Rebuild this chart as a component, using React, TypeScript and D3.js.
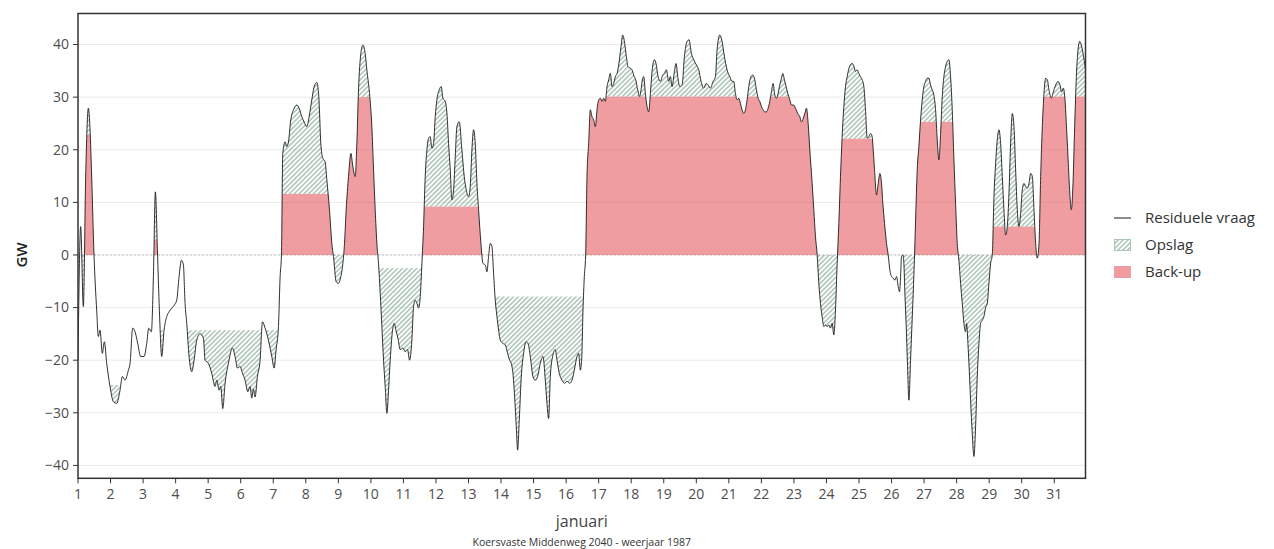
import * as d3 from "d3";

// residual demand (GW), x = day of January
const days = [
  1.0, 1.082, 1.164, 1.236, 1.318, 1.369, 1.42, 1.492, 1.574, 1.625, 1.677, 1.748, 1.81, 1.882, 1.984,
  2.087, 2.189, 2.292, 2.363, 2.445, 2.548, 2.599, 2.681, 2.753, 2.835, 2.927, 3.03, 3.112, 3.173, 3.255,
  3.317, 3.378, 3.44, 3.501, 3.573, 3.645, 3.727, 3.798, 3.88, 3.962, 4.034, 4.106, 4.178, 4.239, 4.29,
  4.342, 4.413, 4.495, 4.567, 4.649, 4.752, 4.853, 4.905, 5.007, 5.11, 5.212, 5.264, 5.335, 5.387, 5.448,
  5.52, 5.622, 5.745, 5.827, 5.899, 5.981, 6.053, 6.135, 6.217, 6.289, 6.34, 6.391, 6.442, 6.514, 6.596,
  6.668, 6.75, 6.852, 6.955, 7.027, 7.088, 7.16, 7.211, 7.252, 7.293, 7.365, 7.416, 7.467, 7.539, 7.621,
  7.724, 7.795, 7.877, 7.949, 8.031, 8.103, 8.185, 8.257, 8.339, 8.4, 8.462, 8.523, 8.595, 8.646, 8.728,
  8.8, 8.851, 8.934, 9.005, 9.077, 9.139, 9.19, 9.241, 9.313, 9.385, 9.446, 9.518, 9.569, 9.62, 9.692,
  9.753, 9.825, 9.876, 9.958, 10.03, 10.082, 10.133, 10.184, 10.235, 10.287, 10.338, 10.389, 10.44, 10.492, 10.543,
  10.594, 10.666, 10.717, 10.768, 10.83, 10.902, 10.984, 11.055, 11.127, 11.189, 11.26, 11.312, 11.363, 11.414, 11.465,
  11.517, 11.568, 11.619, 11.67, 11.722, 11.773, 11.824, 11.875, 11.927, 11.978, 12.029, 12.101, 12.162, 12.214, 12.285,
  12.337, 12.388, 12.439, 12.49, 12.542, 12.593, 12.644, 12.716, 12.797, 12.869, 12.93, 13.002, 13.053, 13.105, 13.156,
  13.207, 13.259, 13.31, 13.382, 13.443, 13.515, 13.566, 13.617, 13.669, 13.72, 13.771, 13.822, 13.874, 13.925, 13.976,
  14.058, 14.13, 14.202, 14.263, 14.314, 14.365, 14.417, 14.468, 14.509, 14.56, 14.622, 14.694, 14.765, 14.827, 14.899,
  14.98, 15.052, 15.124, 15.206, 15.288, 15.36, 15.411, 15.462, 15.514, 15.585, 15.667, 15.719, 15.79, 15.872, 15.954,
  16.026, 16.108, 16.18, 16.251, 16.334, 16.385, 16.436, 16.477, 16.518, 16.559, 16.6, 16.641, 16.692, 16.744, 16.795,
  16.846, 16.898, 16.949, 17.0, 17.052, 17.103, 17.154, 17.205, 17.257, 17.308, 17.359, 17.41, 17.462, 17.513, 17.564,
  17.615, 17.687, 17.738, 17.8, 17.851, 17.902, 17.974, 18.025, 18.076, 18.138, 18.2, 18.261, 18.302, 18.343, 18.384,
  18.435, 18.487, 18.538, 18.589, 18.64, 18.712, 18.763, 18.825, 18.896, 18.968, 19.02, 19.081, 19.153, 19.204, 19.255,
  19.327, 19.378, 19.43, 19.491, 19.563, 19.634, 19.717, 19.778, 19.85, 19.922, 20.004, 20.075, 20.147, 20.229, 20.301,
  20.362, 20.434, 20.516, 20.588, 20.639, 20.721, 20.792, 20.864, 20.946, 21.028, 21.1, 21.151, 21.202, 21.254, 21.305,
  21.356, 21.407, 21.459, 21.51, 21.561, 21.612, 21.664, 21.735, 21.797, 21.848, 21.9, 21.95, 22.002, 22.053, 22.104,
  22.156, 22.207, 22.258, 22.309, 22.36, 22.412, 22.463, 22.504, 22.555, 22.617, 22.658, 22.709, 22.76, 22.812, 22.873,
  22.924, 22.996, 23.047, 23.119, 23.18, 23.232, 23.283, 23.334, 23.386, 23.437, 23.488, 23.56, 23.611, 23.662, 23.714,
  23.765, 23.816, 23.867, 23.919, 23.97, 24.021, 24.072, 24.124, 24.175, 24.226, 24.277, 24.329, 24.38, 24.431, 24.482,
  24.534, 24.585, 24.636, 24.708, 24.79, 24.842, 24.893, 24.944, 24.995, 25.046, 25.098, 25.149, 25.2, 25.252, 25.303,
  25.354, 25.405, 25.436, 25.477, 25.539, 25.59, 25.641, 25.692, 25.733, 25.785, 25.846, 25.897, 25.949, 26.0, 26.051,
  26.102, 26.153, 26.205, 26.246, 26.277, 26.307, 26.348, 26.379, 26.41, 26.451, 26.492, 26.533, 26.584, 26.625, 26.666,
  26.707, 26.748, 26.789, 26.84, 26.892, 26.943, 26.994, 27.045, 27.097, 27.148, 27.199, 27.25, 27.302, 27.353, 27.404,
  27.455, 27.507, 27.558, 27.609, 27.66, 27.712, 27.763, 27.814, 27.865, 27.917, 27.968, 28.019, 28.07, 28.122, 28.173,
  28.224, 28.275, 28.306, 28.347, 28.388, 28.429, 28.48, 28.532, 28.583, 28.634, 28.686, 28.737, 28.788, 28.839, 28.89,
  28.942, 28.993, 29.044, 29.095, 29.147, 29.198, 29.249, 29.3, 29.352, 29.403, 29.454, 29.506, 29.557, 29.608, 29.659,
  29.711, 29.762, 29.813, 29.864, 29.916, 29.967, 30.018, 30.069, 30.121, 30.172, 30.223, 30.274, 30.326, 30.377, 30.428,
  30.479, 30.531, 30.582, 30.633, 30.684, 30.736, 30.787, 30.838, 30.91, 30.971, 31.043, 31.115, 31.176, 31.227, 31.279,
  31.33, 31.381, 31.432, 31.484, 31.525, 31.576, 31.627, 31.679, 31.73, 31.781, 31.832, 31.884, 31.935, 31.96,
];

const residual = [
  -20, 5.4, -9.8, 15, 27.9, 24, 15, 0, -10.5, -15.5, -14.3, -18.7, -16.5, -20.6, -25,
  -27.9, -28.2, -25.7, -23.1, -23.8, -21.9, -20.6, -13.9, -14.6, -16.8, -19.3, -19.3, -16.8, -13.9, -14.6,
  -4.1, 12, 1, -10.5, -19.3, -14.3, -11.7, -10.8, -10.1, -9.5, -8.6, -4.1, -1, -1.9, -9.2,
  -13, -19.3, -22.2, -20, -16.2, -15, -15.8, -20, -20.6, -22.5, -25, -23.8, -25.7, -25, -29.2,
  -24.4, -20.6, -17.7, -19.3, -21.5, -21.2, -22.5, -23.8, -26, -25, -27.2, -25.5, -27, -23.1, -20,
  -12.7, -13.9, -16.2, -19.3, -21.5, -18, -13.6, -4.1, 0, 19.3, 21.5, 20.6, 21.5, 25.7, 27.6,
  28.5, 27.9, 26.3, 25.3, 24.4, 26.3, 29.5, 32, 32.8, 30.1, 21.2, 18.4, 17.7, 14.3, 8.6,
  2.2, -0.3, -5.1, -5.4, -4.1, -1.6, 2.2, 8.6, 14.9, 19.3, 16.8, 14.9, 21.2, 31.4, 38.3,
  39.9, 38.3, 35.2, 30.7, 24.4, 16.2, 8.6, 2.2, -1.6, -7.3, -13.6, -20, -25, -30.1, -25.7,
  -20, -14.3, -13, -14.3, -15.8, -18, -17.7, -18.4, -18, -20, -16.2, -9.8, -8.6, -9.2, -10.1,
  -7.9, -1.6, 5.4, 14.9, 20, 22.2, 22.5, 20.3, 21.2, 26.3, 29.5, 31.4, 32, 29.8, 29.2,
  26.9, 21.2, 16.2, 10.5, 12.4, 18.7, 24.4, 25.3, 20, 14.9, 12.4, 11.1, 13, 20, 23.8,
  21.2, 13.6, 8.6, 2.2, -1.6, -1.9, -3.2, -0.3, 2.2, 1.6, -3.5, -8.6, -11.7, -14.3, -16.2,
  -16.8, -17.1, -18.7, -20, -20.6, -22.5, -26.9, -32.6, -37.1, -31.4, -23.1, -18.7, -16.5, -16.8, -19.3,
  -23.1, -23.8, -23.1, -20.6, -19.3, -23.8, -28.2, -31.1, -23.1, -19.3, -18, -20, -22.5, -23.8, -24.4,
  -24, -24.4, -23.8, -21.9, -19.3, -18.7, -21.9, -20, -10.5, -4.1, 0, 14.9, 21.2, 27.6, 26.3,
  25.7, 24.4, 27.6, 29.5, 29.8, 29.2, 29.8, 29.2, 32, 33.3, 34.5, 32, 32.6, 33.9, 34.5,
  36.1, 39.6, 41.8, 40.2, 37.7, 35.8, 35.5, 35.2, 34.2, 33.3, 31.4, 30.1, 31.4, 33.3, 33.9,
  30.7, 28.2, 27.2, 30.7, 34.9, 37.1, 36.4, 33.9, 33, 34.2, 34.5, 35.2, 33, 33.9, 32,
  34.9, 36.4, 33.9, 32, 32.3, 37.7, 40.6, 40.9, 38.3, 37.1, 36.1, 35.2, 33, 31.7, 32.6,
  32.3, 31.7, 33, 33.9, 39, 41.8, 40.6, 37.7, 35.2, 33.9, 33, 33, 30.7, 29.5, 29.8,
  28.8, 27.6, 26.9, 27.6, 29.5, 32, 33.6, 34.2, 33.3, 31.4, 29.8, 29.2, 28.2, 27.6, 27.2,
  27.2, 27.9, 29.2, 31, 32.6, 30.4, 29.8, 30.4, 32, 33.6, 34.5, 33.3, 32, 30.7, 29.5,
  28.5, 28.5, 27.9, 26.9, 26.3, 25.3, 25.9, 26.9, 27.9, 25, 20, 13.6, 8.6, 3.5, 0,
  -5.4, -9.2, -11.7, -13.6, -13.3, -13.6, -13.3, -13.9, -13, -15.2, -10.5, -1.6, 6, 14.9, 22.5,
  28.2, 32, 33.9, 35.8, 36.4, 35.9, 34.9, 35.2, 34.5, 33.9, 33.3, 32, 27.6, 22.2, 22.5,
  23.1, 22.5, 20, 16.2, 11.4, 13.6, 15.5, 13.6, 9.8, 6, 2.2, 0, -2.9, -4.1, -4.4,
  -4.8, -4.1, -6, -7, -4.1, -0.3, 0, -1.6, -7.3, -13.6, -21.2, -27.6, -20, -13.6, -7.3,
  0, 8.6, 16.2, 20.6, 25.7, 29.5, 32, 33, 33.6, 33.6, 32.3, 31.4, 30.4, 27.6, 21.9,
  18.1, 23.1, 30.1, 33.9, 35.8, 36.8, 37.1, 33.9, 27.6, 18.1, 9.8, 2.2, -1, -5.4, -9.2,
  -13, -14.6, -13, -16.8, -21.9, -27.6, -33.9, -38.3, -32.6, -23.1, -16.8, -13, -12.4, -11.7, -10,
  -9.2, -5.4, -1.6, 0, 11.1, 17.4, 21.9, 23.8, 21.2, 14.9, 8.6, 3.8, 5.4, 11.7, 21.2,
  26.9, 24.4, 16.2, 8.6, 5.4, 7.9, 12.4, 13.6, 13, 12.7, 13.6, 15.5, 14.9, 8.6, 2.2,
  -0.6, 2.2, 14.9, 24.4, 30.7, 33.6, 33.3, 31.4, 29.8, 31, 32.3, 33, 32.3, 31, 31.7,
  29.5, 23.8, 17.4, 11.1, 8.6, 13.6, 24.4, 33.9, 39, 40.6, 39.9, 38.3, 36.4, 35.2,
];

// periods with a fixed back-up level (positive) or storage threshold (<= 0)
const periodStart = [1.1, 1.185, 1.9, 3.33, 3.46, 4.3, 7.252, 8.85, 9.16, 10.2, 11.58, 13.78, 16.58, 23.714, 24.33, 26.33, 26.707, 28.04, 29.095, 30.46, 30.51];
const periodEnd = [1.185, 1.492, 2.45, 3.46, 3.75, 7.2, 8.85, 9.16, 10.2, 11.58, 13.42, 16.58, 23.714, 24.33, 25.9, 26.707, 28.04, 29.095, 30.46, 30.51, 31.96];
const periodLevel = [0, 22.8, -24.7, 3, -14.3, -14.3, 11.6, 0, 30, -2.5, 9.2, -7.9, 30.1, 0, 22.1, 0, 25.3, 0, 5.4, 0, 30.1];

const yTicks = [-40, -30, -20, -10, 0, 10, 20, 30, 40];
const dayTicks = [1, 2, 3, 4, 5, 6, 7, 8, 9, 10, 11, 12, 13, 14, 15, 16, 17, 18, 19, 20, 21, 22, 23, 24, 25, 26, 27, 28, 29, 30, 31];
const legendLabels = ["Residuele vraag", "Opslag", "Back-up"];

const W = 1274;
const H = 549;
const left = 78;
const right = 1085.5;
const top = 13.5;
const bottom = 478.3;
const font = "'Open Sans', 'Noto Sans', sans-serif";
const red = "#e04448";
const hatchColor = "#7ea48c";

export default function App() {
  const x = d3.scaleLinear().domain([1, 31.96]).range([left, right]);
  const y = d3.scaleLinear().domain([-42.45, 45.9]).range([bottom, top]);

  const pts: [number, number][] = days.map((d, i) => [d, residual[i]]);
  const curve = d3.curveMonotoneX;

  const linePath = d3.line<[number, number]>().x((p) => x(p[0])).y((p) => y(p[1])).curve(curve)(pts) || "";
  const belowPath = d3.area<[number, number]>().x((p) => x(p[0])).y0(bottom).y1((p) => y(p[1])).curve(curve)(pts) || "";
  const abovePath = d3.area<[number, number]>().x((p) => x(p[0])).y0(top).y1((p) => y(p[1])).curve(curve)(pts) || "";

  const periods = periodStart.map((s, i) => ({ s, e: periodEnd[i], L: periodLevel[i] }));

  return (
    <svg width={W} height={H} style={{ position: "absolute", left: 0, top: 0, background: "#fff" }} fontFamily={font}>
      <defs>
        <pattern id="hatch" patternUnits="userSpaceOnUse" width="3.4" height="3.4" patternTransform="rotate(45)">
          <line x1="1.7" y1="0" x2="1.7" y2="3.4" stroke={hatchColor} strokeWidth="1" />
        </pattern>
        <clipPath id="below"><path d={belowPath} /></clipPath>
        <clipPath id="above"><path d={abovePath} /></clipPath>
        <clipPath id="plot"><rect x={left} y={top} width={right - left} height={bottom - top} /></clipPath>
      </defs>

      {/* gridlines */}
      {yTicks.map((t) => (
        <line key={"g" + t} x1={left} x2={right} y1={y(t)} y2={y(t)} stroke="#ebebeb" strokeWidth={1} />
      ))}
      <line x1={left} x2={right} y1={y(0)} y2={y(0)} stroke="#b5b5b5" strokeWidth={0.8} strokeDasharray="2,2" />

      <g clipPath="url(#plot)">
        {/* back-up (red) */}
        <g clipPath="url(#below)">
          {periods.filter((p) => p.L > 0).map((p, i) => (
            <rect key={"r" + i} x={x(p.s)} width={x(p.e) - x(p.s)} y={y(p.L)} height={y(0) - y(p.L)} fill={red} fillOpacity={0.52} />
          ))}
          {periods.filter((p) => p.L > 0).map((p, i) => (
            <rect key={"h" + i} x={x(p.s)} width={x(p.e) - x(p.s)} y={top} height={y(p.L) - top} fill="url(#hatch)" />
          ))}
        </g>
        {/* storage below threshold */}
        <g clipPath="url(#above)">
          {periods.map((p, i) => {
            const lv = Math.min(p.L, 0);
            return <rect key={"n" + i} x={x(p.s)} width={x(p.e) - x(p.s)} y={y(lv)} height={bottom - y(lv)} fill="url(#hatch)" />;
          })}
        </g>
        <path d={linePath} fill="none" stroke="#1a1a1a" strokeWidth={0.9} strokeLinejoin="round" />
      </g>

      {/* frame */}
      <rect x={left} y={top} width={right - left} height={bottom - top} fill="none" stroke="#333" strokeWidth={1.5} />

      {/* y axis */}
      {yTicks.map((t) => (
        <g key={"y" + t}>
          <line x1={left - 5} x2={left} y1={y(t)} y2={y(t)} stroke="#333" strokeWidth={1} />
          <text x={left - 9} y={y(t)} dy="0.35em" textAnchor="end" fontSize={14} fill="#4d4d4d">
            {d3.format("d")(t).replace("-", "\u2212")}
          </text>
        </g>
      ))}
      <text transform={`translate(27,${y(0)}) rotate(-90)`} textAnchor="middle" fontSize={15} fontWeight={600} fill="#222">GW</text>

      {/* x axis */}
      {dayTicks.map((d) => (
        <g key={"x" + d}>
          <line x1={x(d)} x2={x(d)} y1={bottom} y2={bottom + 5} stroke="#333" strokeWidth={1} />
          <text x={x(d)} y={bottom + 21} textAnchor="middle" fontSize={14} fill="#4d4d4d">{d}</text>
        </g>
      ))}
      <text x={(left + right) / 2} y={527} textAnchor="middle" fontSize={16} fill="#444">januari</text>
      <text x={(left + right) / 2} y={546} textAnchor="middle" fontSize={10.5} fill="#333">Koersvaste Middenweg 2040 - weerjaar 1987</text>

      {/* legend */}
      <g>
        <line x1={1114} x2={1131} y1={218} y2={218} stroke="#1a1a1a" strokeWidth={1} />
        <text x={1145} y={218} dy="0.35em" fontSize={15} fill="#333">{legendLabels[0]}</text>
        <rect x={1114.5} y={239.5} width={16} height={11} fill="url(#hatch)" stroke="#a9c5b2" strokeWidth={1} />
        <text x={1145} y={245} dy="0.35em" fontSize={15} fill="#333">{legendLabels[1]}</text>
        <rect x={1114} y={266} width={17} height={12} fill={red} fillOpacity={0.52} />
        <text x={1145} y={272} dy="0.35em" fontSize={15} fill="#333">{legendLabels[2]}</text>
      </g>
    </svg>
  );
}
